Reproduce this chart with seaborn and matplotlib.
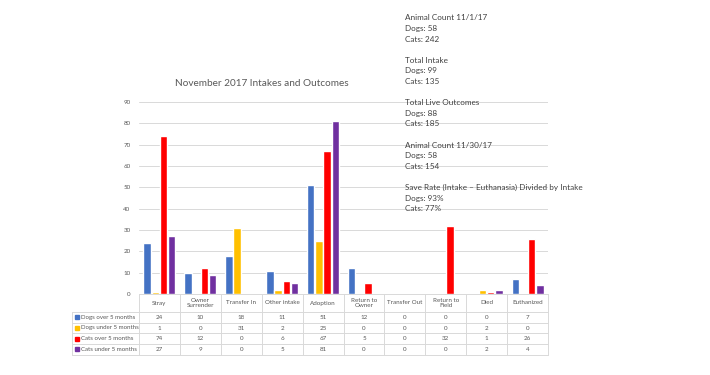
import pandas as pd
import matplotlib.pyplot as plt
import matplotlib.transforms as mtransforms
import seaborn as sns

# Data
categories = ['Stray', 'Owner Surrender', 'Transfer In', 'Other intake', 'Adoption',
              'Return to Owner', 'Transfer Out', 'Return to Field', 'Died', 'Euthanized']
cat_labels = ['Stray', 'Owner\nSurrender', 'Transfer In', 'Other intake', 'Adoption',
              'Return to\nOwner', 'Transfer Out', 'Return to\nField', 'Died', 'Euthanized']
series = ['Dogs over 5 months', 'Dogs under 5 months', 'Cats over 5 months', 'Cats under 5 months']
dogs_over = [24, 10, 18, 11, 51, 12, 0, 0, 0, 7]
dogs_under = [1, 0, 31, 2, 25, 0, 0, 0, 2, 0]
cats_over = [74, 12, 0, 6, 67, 5, 0, 32, 1, 26]
cats_under = [27, 9, 0, 5, 81, 0, 0, 0, 2, 4]
colors = ['#4472C4', '#FFC000', '#FF0000', '#7030A0']

notes = ['Animal Count 11/1/17', 'Dogs: 58', 'Cats: 242', '',
         'Total Intake', 'Dogs: 99', 'Cats: 135', '',
         'Total Live Outcomes', 'Dogs: 88', 'Cats: 185', '',
         'Animal Count 11/30/17', 'Dogs: 58', 'Cats: 154', '',
         'Save Rate (Intake \u2013 Euthanasia) Divided by Intake', 'Dogs: 93%', 'Cats: 77%']

values = [dogs_over, dogs_under, cats_over, cats_under]
df = pd.DataFrame([(c, s, v[i]) for s, v in zip(series, values) for i, c in enumerate(categories)],
                  columns=['Category', 'Series', 'Count'])

sns.set_style('white')
plt.rcParams['font.family'] = ['Lato', 'DejaVu Sans']

W, H = 710, 375
fig = plt.figure(figsize=(W / 100, H / 100), dpi=100)
ax = fig.add_axes([139 / W, 1 - 294 / H, (548 - 139) / W, (294 - 102) / H])

sns.barplot(data=df, x='Category', y='Count', hue='Series',
            order=categories, hue_order=series, palette=dict(zip(series, colors)),
            saturation=1, width=0.8, gap=0.1, legend=False, ax=ax, zorder=3)

ax.set_xlim(-0.5, len(categories) - 0.5)
ax.set_ylim(0, 90)
ax.set_yticks(range(0, 91, 10))
ax.tick_params(axis='y', labelsize=4.5, labelcolor='#595959', length=0, pad=6)
ax.set_xticks([])
ax.set_xlabel('')
ax.set_ylabel('')
ax.yaxis.grid(True, color='#D9D9D9', lw=0.7)
ax.set_axisbelow(True)
for sp in ax.spines.values():
    sp.set_visible(False)

fig.text(262 / W, 1 - 84 / H, 'November 2017 Intakes and Outcomes', ha='center', va='center',
         fontsize=7.2, color='#595959')

# Data table below the plot
tcolor = '#595959'
lcolor = '#D9D9D9'
trans = mtransforms.blended_transform_factory(ax.transData, fig.transFigure)
rows_px = [294, 312, 322.7, 333.3, 344, 354.7]
fy = lambda p: 1 - p / H
n = len(categories)

for yp in rows_px:
    ax.plot([-0.5, n - 0.5], [fy(yp)] * 2, transform=trans, color=lcolor, lw=0.7, clip_on=False)
for yp in rows_px[1:]:
    fig.add_artist(plt.Line2D([72 / W, 139 / W], [fy(yp)] * 2, color=lcolor, lw=0.7))
fig.add_artist(plt.Line2D([72 / W, 72 / W], [fy(rows_px[1]), fy(rows_px[-1])], color=lcolor, lw=0.7))
for i in range(n + 1):
    ax.plot([i - 0.5] * 2, [fy(rows_px[0]), fy(rows_px[-1])], transform=trans,
            color=lcolor, lw=0.7, clip_on=False)

for i, lab in enumerate(cat_labels):
    ax.text(i, fy((rows_px[0] + rows_px[1]) / 2), lab, transform=trans, ha='center', va='center',
            fontsize=4.5, color=tcolor, linespacing=1.15)
    for r, v in enumerate(values):
        ax.text(i, fy((rows_px[r + 1] + rows_px[r + 2]) / 2), str(v[i]), transform=trans,
                ha='center', va='center', fontsize=4.5, color=tcolor)

for r, (s, c) in enumerate(zip(series, colors)):
    yc = fy((rows_px[r + 1] + rows_px[r + 2]) / 2)
    fig.add_artist(plt.Rectangle((75 / W, yc - 2 / H), 4 / W, 4 / H, color=c))
    fig.text(81 / W, yc, s, ha='left', va='center', fontsize=4.4, color=tcolor)

# Summary notes at top right
for k, line in enumerate(notes):
    if line:
        fig.text(405 / W, fy(18 + k * 10.6), line, ha='left', va='center',
                 fontsize=5.85, color='#404040')

fig.savefig('out.png', dpi=100)
